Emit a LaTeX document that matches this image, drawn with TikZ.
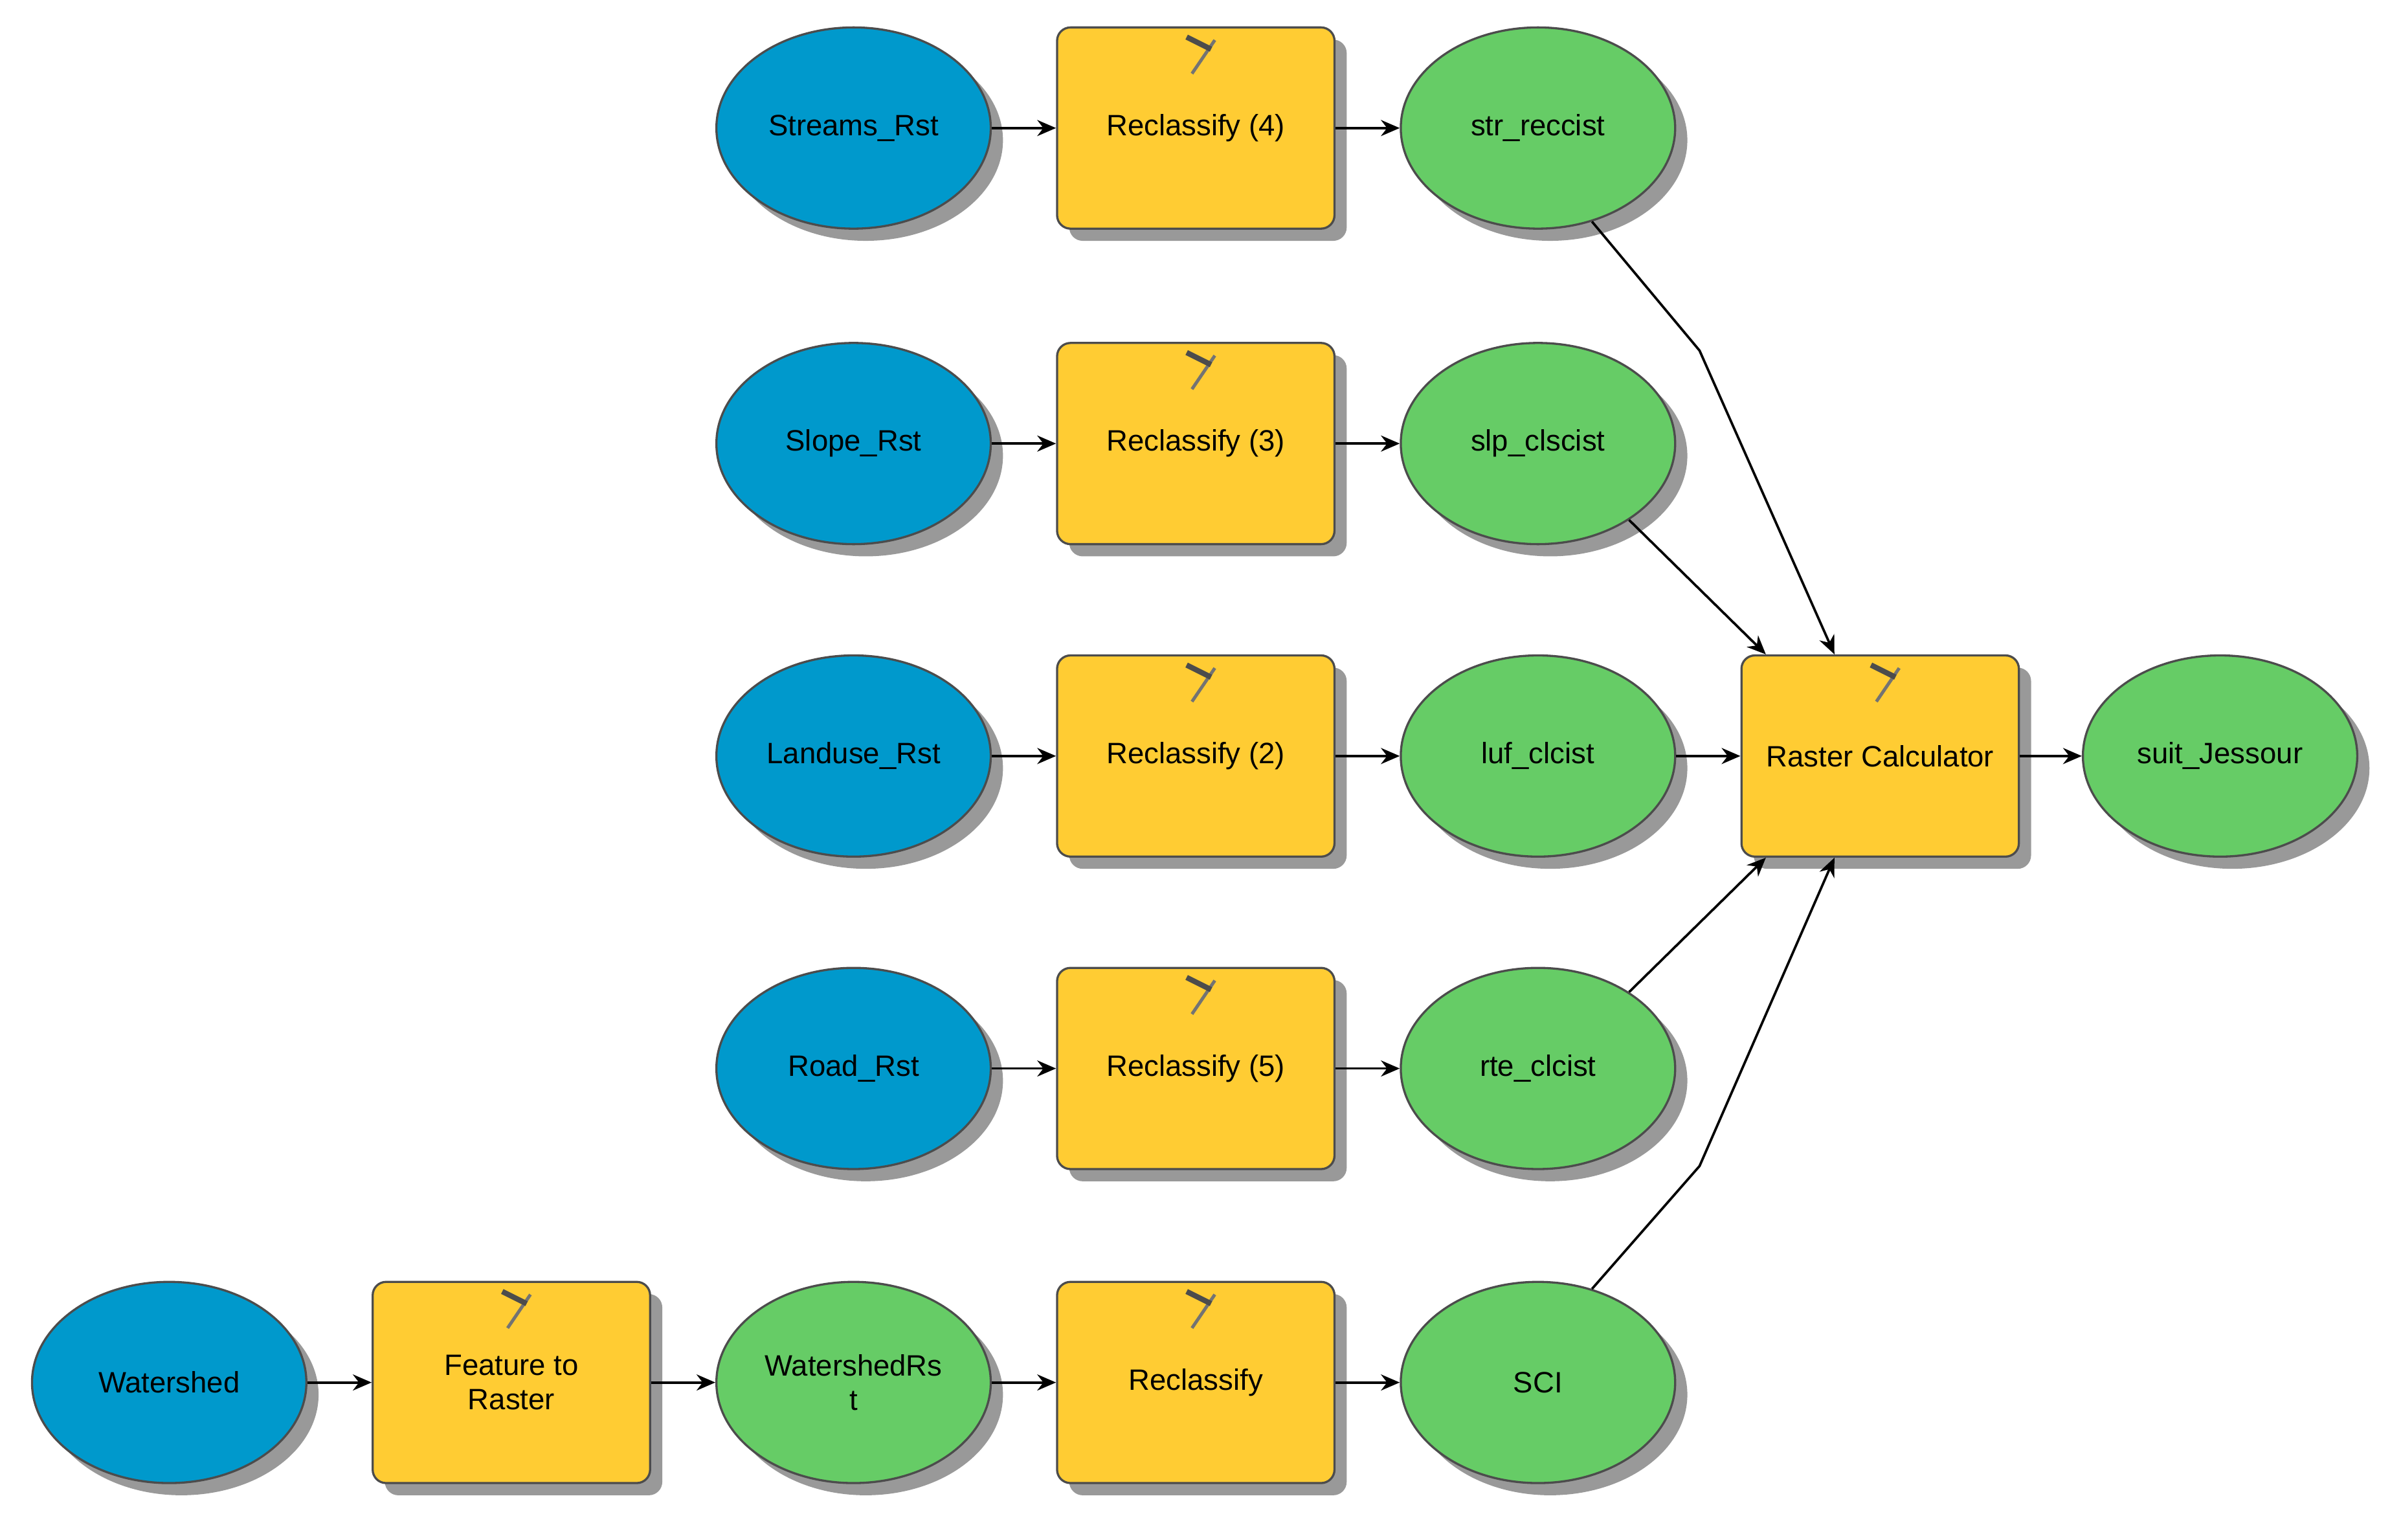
\documentclass[tikz,border=0pt]{standalone}
\usepackage{fontspec}
\setmainfont{Liberation Sans}
\usetikzlibrary{positioning,shadows,shapes.geometric,arrows.meta}
\definecolor{inblue}{HTML}{0099CC}
\definecolor{tool}{HTML}{FFCC33}
\definecolor{outgreen}{HTML}{66CC66}
\tikzset{
  base/.style={draw=black!70, line width=0.8pt, minimum width=3.6cm, minimum height=2.64cm,
    font=\fontsize{11}{13}\selectfont, align=center,
    drop shadow={shadow xshift=0.16cm, shadow yshift=-0.16cm, fill=black!40, opacity=1}},
  input/.style={base, ellipse, fill=inblue, inner sep=0pt},
  data/.style={base, ellipse, fill=outgreen, inner sep=0pt},
  proc/.style={base, rectangle, rounded corners=5pt, fill=tool, minimum width=3.64cm},
  flow/.style={-{Stealth[length=7pt,width=6pt]}, line width=0.9pt}
}
\begin{document}
\begin{tikzpicture}[node distance=4.49cm, on grid]
\useasboundingbox (0,0) rectangle (31.36,-20.2);
   % rows of inputs
   \node[input] (streams) at (11.2,-1.68) {Streams\_Rst};
   \node[proc]  (rc4) [right=of streams] {Reclassify (4)};
   \node[data]  (str) [right=of rc4] {str\_reccist};

   \node[input] (slope) at (11.2,-5.82) {Slope\_Rst};
   \node[proc]  (rc3) [right=of slope] {Reclassify (3)};
   \node[data]  (slp) [right=of rc3] {slp\_clscist};

   \node[input] (landuse) at (11.2,-9.92) {Landuse\_Rst};
   \node[proc]  (rc2) [right=of landuse] {Reclassify (2)};
   \node[data]  (luf) [right=of rc2] {luf\_clcist};
   \node[proc]  (calc) [right=of luf] {Raster Calculator};
   \node[data]  (suit) [right=4.46cm of calc] {suit\_Jessour};

   \node[input] (road) at (11.2,-14.02) {Road\_Rst};
   \node[proc]  (rc5) [right=of road] {Reclassify (5)};
   \node[data]  (rte) [right=of rc5] {rte\_clcist};

   \node[input] (wshed) at (2.22,-18.14) {Watershed};
   \node[proc]  (ftr) [right=of wshed] {Feature to\\Raster};
   \node[data]  (wrst) [right=of ftr] {WatershedRs\\t};
   \node[proc]  (rc1) [right=of wrst] {Reclassify};
   \node[data]  (sci) [right=of rc1] {SCI};

   % hammer icons
   \foreach \t in {rc4,rc3,rc2,rc5,rc1,ftr,calc}{
     \draw[black!55, line width=1.2pt] ([xshift=-0.05cm,yshift=-0.62cm]\t.north) -- ([xshift=0.25cm,yshift=-0.18cm]\t.north);
     \draw[black!70, line width=2pt] ([xshift=-0.12cm,yshift=-0.14cm]\t.north) -- ([xshift=0.2cm,yshift=-0.3cm]\t.north);
   }

   \foreach \a/\b in {streams/rc4,rc4/str,slope/rc3,rc3/slp,landuse/rc2,rc2/luf,luf/calc,calc/suit,
                      road/rc5,rc5/rte,wshed/ftr,ftr/wrst,wrst/rc1,rc1/sci}
     \draw[flow] (\a) -- (\b);

   \coordinate (k1) at (22.3,-4.6);
   \coordinate (k2) at (22.3,-15.3);
   \draw[flow] (str.-60) -- (k1) -- ([xshift=-0.6cm]calc.north);
   \draw[flow] (slp.-40) -- ([xshift=-1.5cm]calc.north);
   \draw[flow] (rte.40) -- ([xshift=-1.5cm]calc.south);
   \draw[flow] (sci.60) -- (k2) -- ([xshift=-0.6cm]calc.south);
\end{tikzpicture}
\end{document}
